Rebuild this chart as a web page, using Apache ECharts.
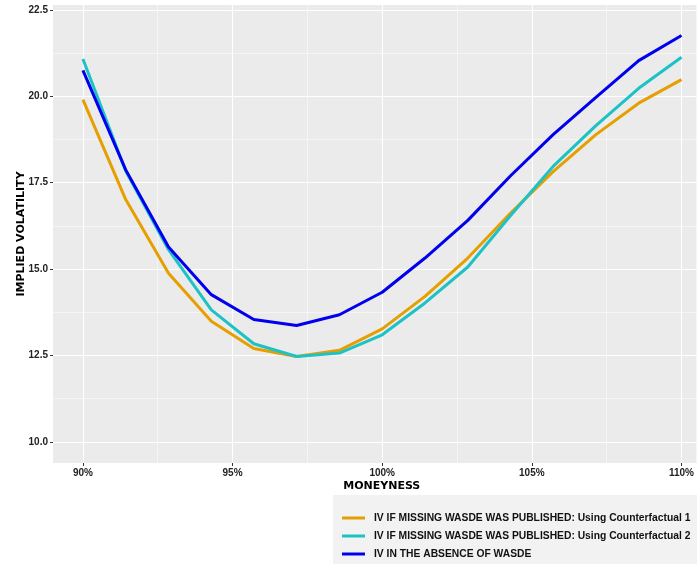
<!DOCTYPE html>
<html>
<head>
<meta charset="utf-8">
<script src="https://cdn.jsdelivr.net/npm/echarts@6/dist/echarts.min.js"></script>
<style>
  html, body { margin: 0; padding: 0; background: #fff; }
  #main { width: 697px; height: 564px; }
</style>
</head>
<body>
<div id="main"></div>
<script>
// moneyness, 15 strikes from 90% to 110%
const moneyness = [90, 91.43, 92.86, 94.29, 95.71, 97.14, 98.57, 100, 101.43, 102.86, 104.29, 105.71, 107.14, 108.57, 110];
const ivCf1 = [19.90, 17.01, 14.88, 13.49, 12.70, 12.47, 12.65, 13.27, 14.21, 15.32, 16.62, 17.82, 18.89, 19.80, 20.48];
const ivCf2 = [21.08, 17.84, 15.56, 13.82, 12.84, 12.47, 12.57, 13.10, 14.02, 15.06, 16.55, 17.97, 19.15, 20.23, 21.13];
const ivNoWasde = [20.75, 17.87, 15.64, 14.26, 13.54, 13.37, 13.68, 14.33, 15.32, 16.41, 17.70, 18.89, 19.97, 21.03, 21.76];

const seriesNames = [
  'IV IF MISSING WASDE WAS PUBLISHED: Using Counterfactual 1',
  'IV IF MISSING WASDE WAS PUBLISHED: Using Counterfactual 2',
  'IV IN THE ABSENCE OF WASDE'
];
const colors = ['#E69F00', '#1CC2C6', '#0000EE'];

const xMajor = [90, 95, 100, 105, 110];
const xMinor = [92.5, 97.5, 102.5, 107.5];
const yMajor = [10, 12.5, 15, 17.5, 20, 22.5];
const yMinor = [11.25, 13.75, 16.25, 18.75, 21.25];

const myChart = echarts.init(document.getElementById('main'));

const pair = (ys) => moneyness.map((m, i) => [m, ys[i]]);
const labelFont = { color: '#222', fontWeight: 'bold', fontSize: 10, fontFamily: 'Liberation Sans, Arial' };
const titleFont = { color: '#000', fontWeight: 900, fontSize: 11, fontFamily: 'DejaVu Sans, Arial' };

// the panel runs on past the right edge of the picture (ggplot pads to 111%)
const option = {
  backgroundColor: '#fff',
  animation: false,
  grid: { left: 53, top: 5, right: 0, bottom: 101, backgroundColor: '#EBEBEB', show: true, borderWidth: 0 },
  graphic: [{
    type: 'rect', left: 333, top: 495, shape: { width: 380, height: 80 },
    style: { fill: '#F2F2F2' }, z: -1
  }],
  xAxis: [{
    type: 'value', min: 89, max: 110.5,
    name: 'MONEYNESS', nameLocation: 'middle', nameGap: 18, nameMoveOverlap: false,
    nameTextStyle: { ...titleFont, padding: [0, 0, 0, 14] },
    axisLine: { show: false },
    axisTick: { show: true, length: 3, lineStyle: { color: '#333' }, customValues: xMajor },
    axisLabel: { ...labelFont, margin: 5, customValues: xMajor, formatter: v => v + '%' },
    splitLine: { show: true, lineStyle: { color: '#fff', width: 1.1 } }
  }, {
    type: 'value', min: 89, max: 110.5,
    axisLine: { show: false },
    axisTick: { show: false, customValues: xMinor },
    axisLabel: { show: false },
    splitLine: { show: true, lineStyle: { color: '#fff', width: 0.5 } }
  }],
  yAxis: [{
    type: 'value', min: 9.39, max: 22.64,
    name: 'IMPLIED VOLATILITY', nameLocation: 'middle', nameGap: 26, nameMoveOverlap: false,
    nameTextStyle: titleFont,
    axisLine: { show: false },
    axisTick: { show: true, length: 3, lineStyle: { color: '#333' }, customValues: yMajor },
    axisLabel: { ...labelFont, margin: 5, customValues: yMajor, formatter: v => v.toFixed(1) },
    splitLine: { show: true, lineStyle: { color: '#fff', width: 1.1 } }
  }, {
    type: 'value', min: 9.39, max: 22.64, position: 'left',
    axisLine: { show: false },
    axisTick: { show: false, customValues: yMinor },
    axisLabel: { show: false },
    splitLine: { show: true, lineStyle: { color: '#fff', width: 0.5 } }
  }],
  legend: {
    orient: 'vertical', left: 342, top: 512, padding: 0,
    icon: 'rect', itemWidth: 23, itemHeight: 3, itemGap: 6,
    textStyle: { color: '#111', fontWeight: 'bold', fontSize: 10.3, lineHeight: 12, padding: [0, 0, 0, 4], fontFamily: 'Liberation Sans, Arial' },
    data: seriesNames
  },
  series: [ivCf1, ivCf2, ivNoWasde].map((ys, k) => ({
    name: seriesNames[k],
    type: 'line',
    data: pair(ys),
    showSymbol: false,
    color: colors[k],
    lineStyle: { width: 3, color: colors[k] },
    z: 3 + k
  }))
};

myChart.setOption(option);
</script>
</body>
</html>
